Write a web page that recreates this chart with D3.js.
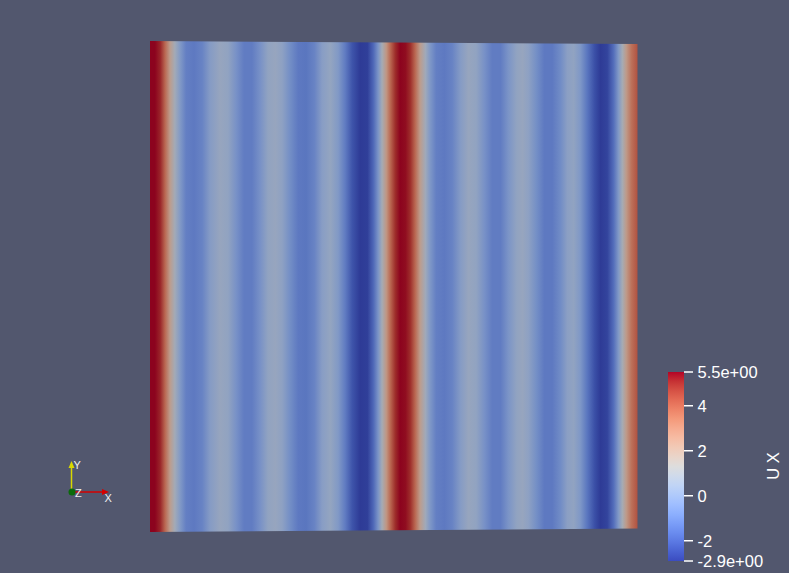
<!DOCTYPE html>
<html><head><meta charset="utf-8">
<script src="https://cdn.jsdelivr.net/npm/d3@7"></script>
<style>html,body{margin:0;padding:0;background:#52576e;}svg{display:block}</style>
</head><body><svg id="c" width="789" height="573"></svg>
<script>
// ---- data: U X profile across the surface (position 0..1 left->right) ----
const positions = [0,0.010,0.021,0.031,0.041,0.051,0.062,0.074,0.090,0.107,0.123,0.144,0.160,0.177,0.193,0.209,0.226,0.242,0.257,0.271,0.287,0.304,0.320,0.337,0.353,0.370,0.386,0.400,0.415,0.431,0.446,0.458,0.468,0.476,0.485,0.493,0.503,0.513,0.524,0.534,0.544,0.554,0.565,0.575,0.587,0.604,0.620,0.637,0.653,0.669,0.686,0.702,0.719,0.735,0.752,0.764,0.776,0.793,0.809,0.825,0.842,0.856,0.869,0.883,0.897,0.912,0.924,0.938,0.951,0.961,0.969,0.977,0.988,1.0];
const uxValues  = [5.5,5.5,5.1,3.8,2.2,0.9,-0.2,-1.1,-1.3,-1.0,-0.1,0.5,0.3,-0.5,-1.2,-1.2,-0.5,0.3,0.5,0.2,-0.6,-1.3,-1.4,-1.0,0.0,0.4,-0.2,-1.2,-2.3,-2.9,-2.8,-1.8,-0.4,1.0,2.5,3.8,5.0,5.5,5.4,5.0,3.8,2.2,0.8,-0.3,-1.1,-1.3,-1.0,-0.1,0.5,0.3,-0.5,-1.2,-1.2,-0.4,0.3,0.5,0.2,-0.6,-1.3,-1.3,-0.7,0.1,0.3,-0.3,-1.4,-2.4,-2.9,-2.7,-1.6,-0.2,1.0,2.3,3.6,4.3];
const rangeMin = -2.9, rangeMax = 5.5;
const tickValues = [-2, 0, 2, 4];
const tickLabels = ["-2", "0", "2", "4"];
const endLabels = ["-2.9e+00", "5.5e+00"];
const barTitle = "U X";

// Cool to Warm colormap table
const cwTable = [[59,76,192],[77,104,215],[98,130,234],[119,154,247],[141,176,254],[163,194,255],[184,208,249],[204,217,238],[221,221,221],[236,211,197],[245,196,173],[247,177,151],[244,154,123],[236,127,99],[222,96,77],[203,62,56],[180,4,38]];
const cwInterp = d3.piecewise(d3.interpolateRgb, cwTable.map(c=>d3.rgb(c[0],c[1],c[2])));
const colorScale = d3.scaleSequential(cwInterp).domain([rangeMin, rangeMax]).clamp(true);
const shade = 0.78;
function lit(v){ const c = d3.rgb(colorScale(v)); return d3.rgb(c.r*shade, c.g*shade, c.b*shade).formatHex(); }

const svg = d3.select("#c");
svg.append("rect").attr("width",789).attr("height",573).attr("fill","#52576e");
const defs = svg.append("defs");

// surface
const x = d3.scaleLinear().domain([0,1]).range([150,637.5]);
const grad = defs.append("linearGradient").attr("id","surf").attr("gradientUnits","userSpaceOnUse")
  .attr("x1",x(0)).attr("x2",x(1)).attr("y1",0).attr("y2",0);
grad.selectAll("stop").data(positions).enter().append("stop")
  .attr("offset",(d)=>d).attr("stop-color",(d,i)=>lit(uxValues[i]));
const topY = d3.scaleLinear().domain([0,1]).range([41,44]);
const botY = d3.scaleLinear().domain([0,1]).range([532,528.5]);
const outline = [[x(0),topY(0)],[x(0.5),topY(0.5)],[x(1),topY(1)],[x(1),botY(1)],[x(0.5),botY(0.5)],[x(0),botY(0)]];
svg.append("path").attr("d", d3.line()(outline)+"Z").attr("fill","url(#surf)");

// colorbar
const by = d3.scaleLinear().domain([rangeMin, rangeMax]).range([561,372]);
const cbg = defs.append("linearGradient").attr("id","cbar").attr("x1",0).attr("x2",0).attr("y1",1).attr("y2",0);
d3.range(0,1.0001,0.05).forEach(t=>{
  cbg.append("stop").attr("offset",t).attr("stop-color",colorScale(rangeMin+t*(rangeMax-rangeMin)));
});
svg.append("rect").attr("x",668).attr("y",by(rangeMax)).attr("width",16).attr("height",by(rangeMin)-by(rangeMax)).attr("fill","url(#cbar)");
const allTicks = [rangeMin, ...tickValues, rangeMax];
const allLabels = [endLabels[0], ...tickLabels, endLabels[1]];
const tg = svg.append("g");
allTicks.forEach((v,i)=>{
  tg.append("line").attr("x1",684).attr("x2",693).attr("y1",by(v)).attr("y2",by(v)).attr("stroke","#ffffff").attr("stroke-width",1.5);
  tg.append("text").attr("x",697.5).attr("y",by(v)).attr("dy","0.36em").attr("fill","#ffffff")
    .attr("font-family","Liberation Sans, Arial, sans-serif").attr("font-size",16.5).text(allLabels[i]);
});
svg.append("text").attr("transform","translate(779,466) rotate(-90)").attr("text-anchor","middle")
  .attr("fill","#ffffff").attr("font-family","Liberation Sans, Arial, sans-serif").attr("font-size",16.5).text(barTitle);

// orientation triad
const tri = svg.append("g");
tri.append("line").attr("x1",71.5).attr("y1",492).attr("x2",71.5).attr("y2",466).attr("stroke","#d8d800").attr("stroke-width",1.5);
tri.append("path").attr("d","M68.5,468 L74.5,468 L71.5,461 Z").attr("fill","#d8d800");
tri.append("line").attr("x1",72).attr("y1",492).attr("x2",104).attr("y2",492).attr("stroke","#d40000").attr("stroke-width",1.5);
tri.append("path").attr("d","M102,489 L102,495 L109,492 Z").attr("fill","#d40000");
tri.append("circle").attr("cx",72).attr("cy",492).attr("r",3.5).attr("fill","#0a6a0a");
const lf = {"font-family":"Liberation Sans, Arial, sans-serif","font-size":11,"fill":"#f0f0f0"};
[["Y",73.5,469],["Z",75,497],["X",104.5,502]].forEach(([t,tx,ty])=>{
  const e = tri.append("text").attr("x",tx).attr("y",ty).text(t);
  Object.entries(lf).forEach(([k,v])=>e.attr(k,v));
});
</script></body></html>
